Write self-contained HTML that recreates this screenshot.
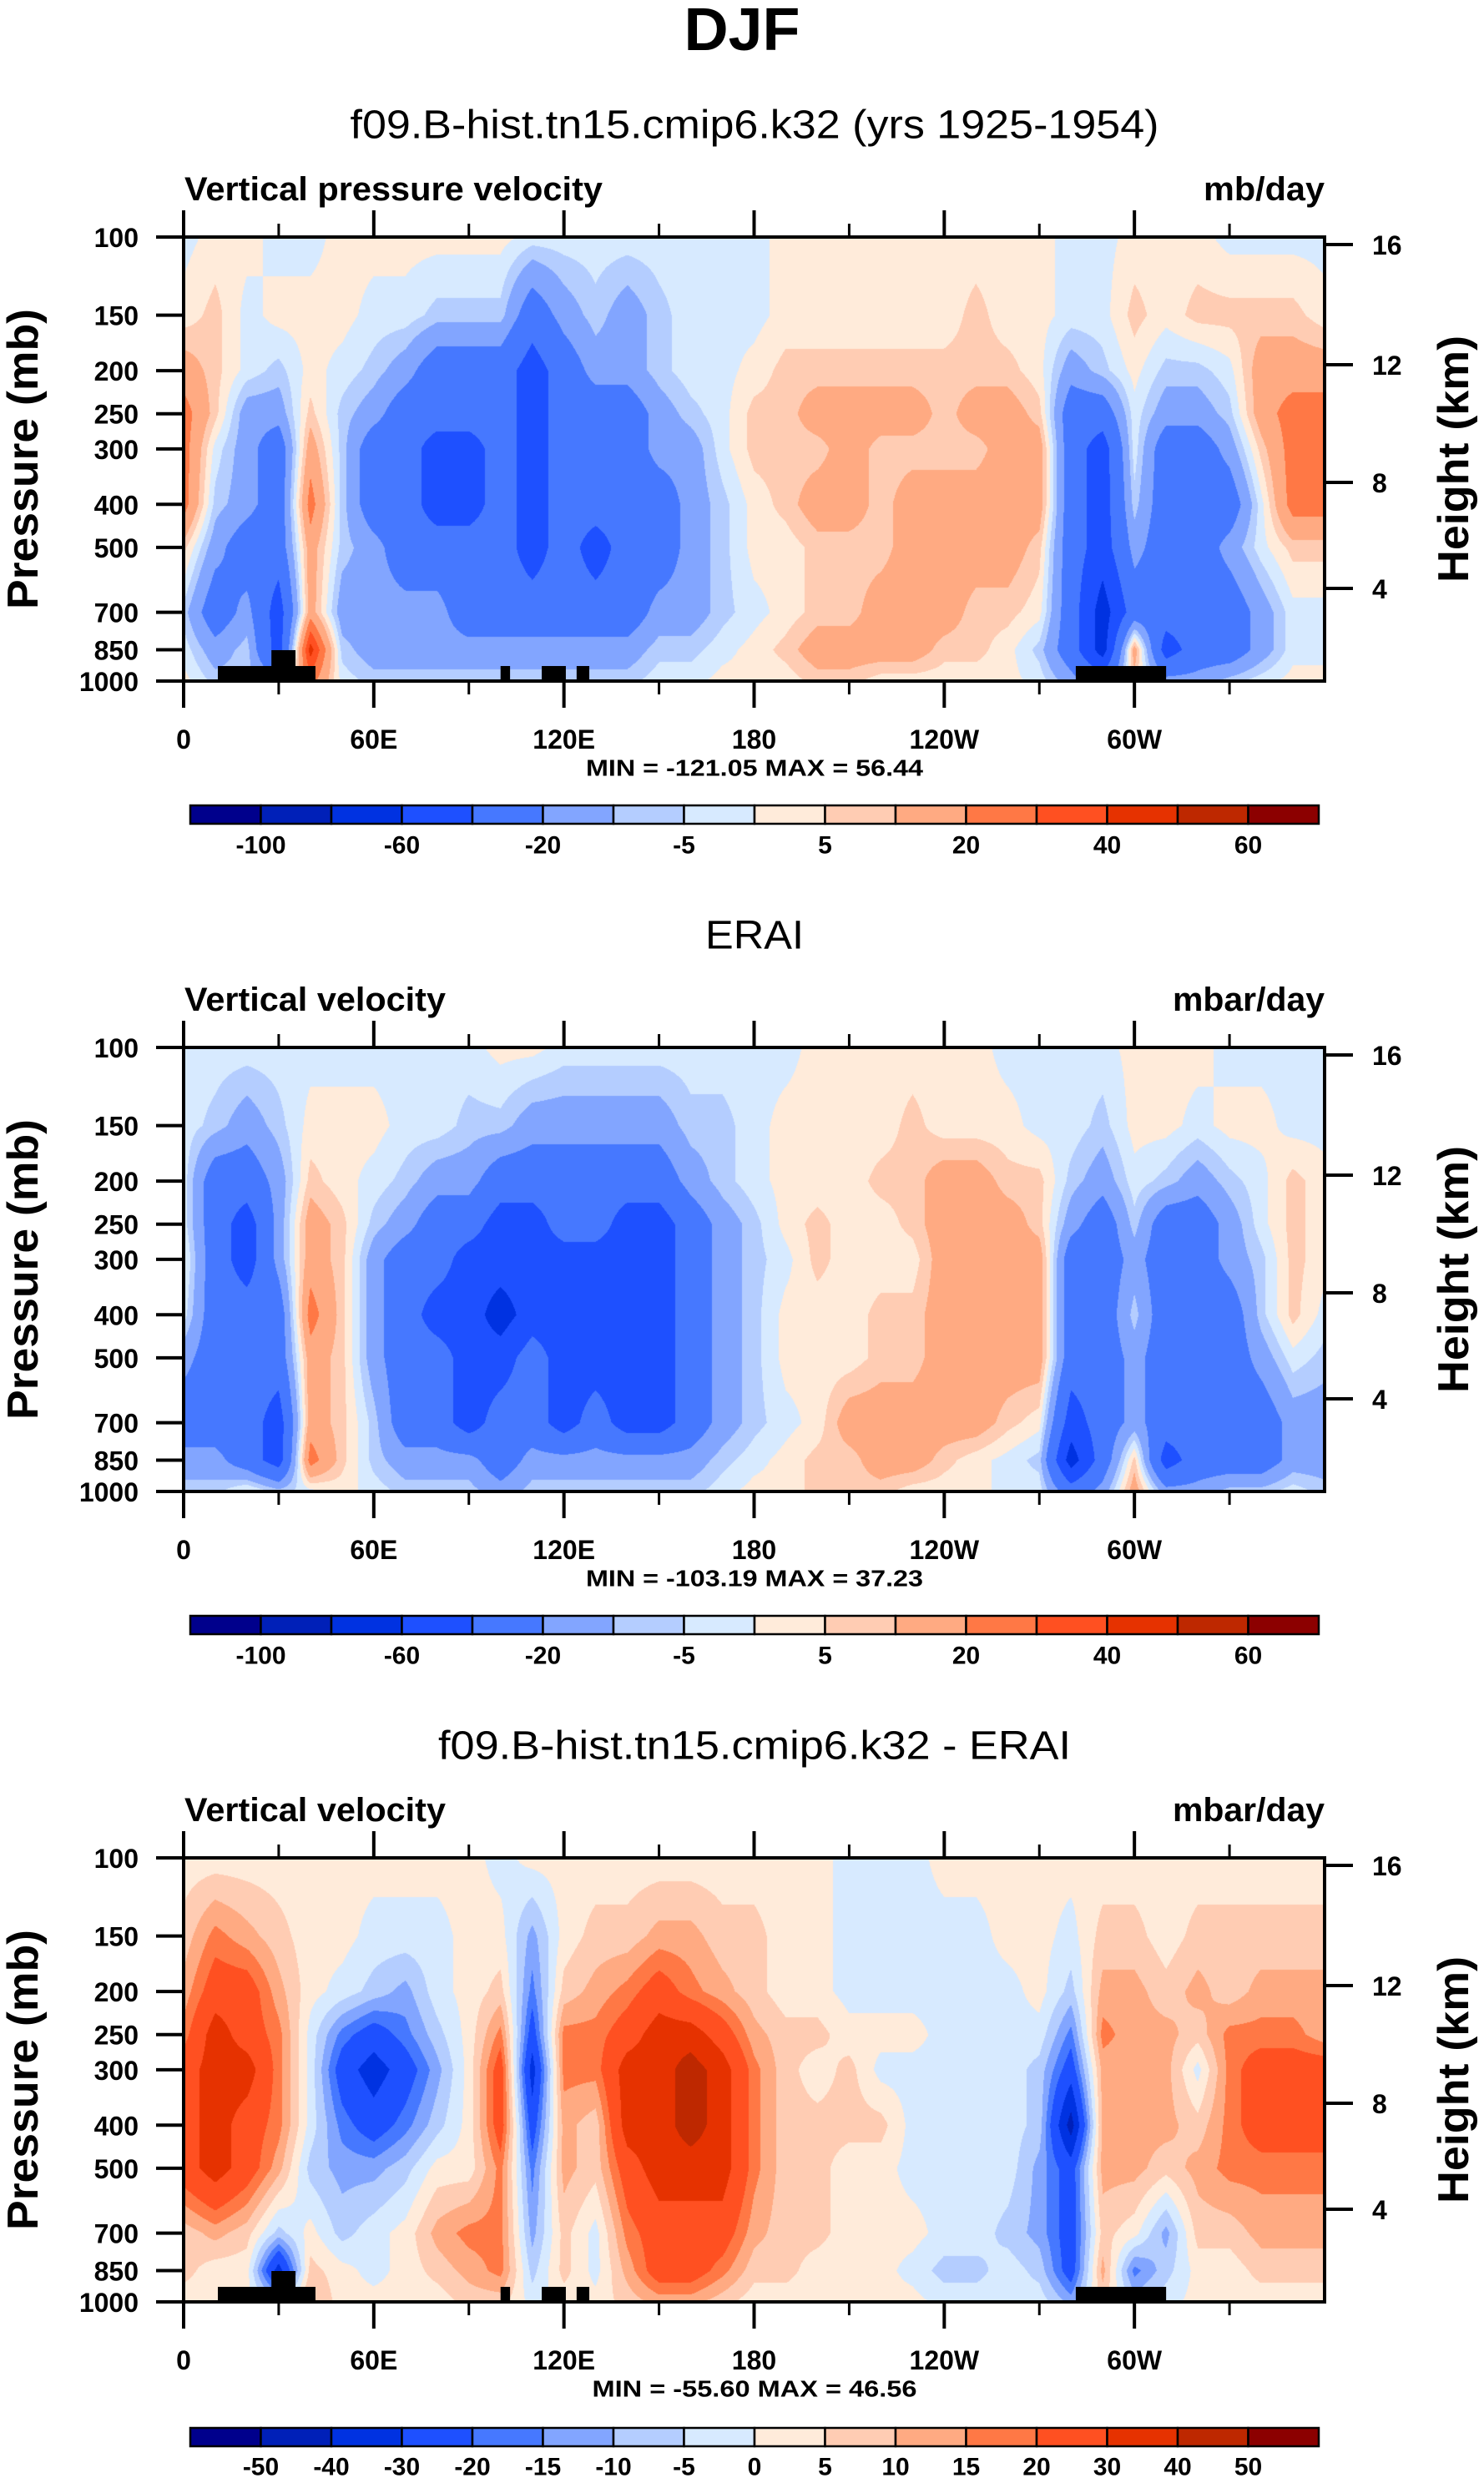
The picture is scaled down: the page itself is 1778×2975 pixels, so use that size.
<!DOCTYPE html>
<html><head><meta charset="utf-8"><style>
html,body{margin:0;padding:0;background:#fff;}
#root{position:relative;width:1778px;height:2975px;overflow:hidden;background:#fff;}
canvas{position:absolute;}
svg{position:absolute;left:0;top:0;}
text{font-family:"Liberation Sans",sans-serif;fill:#000;}
</style></head><body>
<div id="root">
<canvas id="c0" width="1367" height="532" style="left:220px;top:284px"></canvas>
<canvas id="c1" width="1367" height="532" style="left:220px;top:1255px"></canvas>
<canvas id="c2" width="1367" height="532" style="left:220px;top:2226px"></canvas>
<svg id="ov" width="1778" height="2975"></svg>
</div>
<script>
// ---- data ----
const lons = [0,10,20,30,40,50,60,70,80,90,100,110,120,130,140,150,160,170,180,190,200,210,220,230,240,250,260,270,280,290,300,310,320,330,340,350,360];
const plevs = [100,150,200,250,300,400,500,700,850,1000];
const levelsA = [-100,-80,-60,-40,-20,-10,-5,0,5,10,20,30,40,50,60];
const levelsB = [-50,-40,-30,-20,-15,-10,-5,0,5,10,15,20,30,40,50];
const labelsA = ["-100","-60","-20","-5","5","20","40","60"];
const labelsAIdx = [0,2,4,6,8,10,12,14];
const labelsB = ["-50","-40","-30","-20","-15","-10","-5","0","5","10","15","20","30","40","50"];
const colors = ["#00008c","#0020b8","#0032e1","#1e50ff","#4678ff","#82a5ff","#b4cdff","#d7eaff","#ffebda","#ffccb3","#ffaa82","#ff7845","#ff5021","#e63200","#be2800","#8c0000"];
const xTickLabels = ["0","60E","120E","180","120W","60W"];
const xTickLons = [0,60,120,180,240,300];
const xMinorLons = [30,90,150,210,270,330];
const pTickLabels = ["100","150","200","250","300","400","500","700","850","1000"];
const pTicks = [100,150,200,250,300,400,500,700,850,1000];
const hTickLabels = ["16","12","8","4"];
const hTickY = [293,437,578,705];
const topo = [[10.8,41.6,925],[27.7,35.3,852],[100,103,925],[113,120.6,925],[124,128,925],[281.5,310,925]];

const model = [
[-2,2,2,-2,-2,2,2,2,2,2,2,-2,-2,-2,-2,-2,-2,-2,-2,2,2,2,2,2,2,2,2,2,-2,-2,2,2,2,-2,-2,-2,-2],
[2,7,-2,2,2,2,-2,-2,-7,-7,-7,-30,-15,-7,-15,-7,-2,-2,-2,2,2,2,2,2,2,7,2,2,-2,-2,7,2,7,7,7,7,2],
[15,7,-2,-7,2,-2,-7,-15,-30,-30,-30,-50,-30,-15,-15,-7,-2,-2,2,7,7,7,7,7,7,7,7,2,-15,-7,2,-7,-7,-2,15,15,15],
[25,7,-15,-15,7,-7,-15,-30,-30,-30,-30,-50,-30,-30,-30,-15,-7,-2,7,7,15,15,15,15,7,15,15,7,-30,-30,-2,-15,-15,-7,15,25,25],
[25,-2,-15,-30,15,-7,-30,-30,-50,-50,-30,-50,-30,-30,-30,-15,-15,-2,7,7,7,15,7,7,7,7,15,15,-30,-50,-2,-30,-30,-15,7,25,25],
[25,-7,-15,-30,25,-7,-30,-30,-50,-50,-30,-50,-30,-30,-30,-30,-15,-7,2,7,15,15,7,15,15,15,15,15,-30,-50,-7,-30,-30,-30,-2,25,25],
[7,-15,-30,-30,15,-7,-15,-30,-30,-30,-30,-50,-30,-50,-30,-30,-15,-7,2,2,7,7,7,15,15,15,15,7,-30,-50,-15,-30,-30,-15,-2,7,7],
[-7,-30,-15,-50,15,-15,-15,-15,-15,-30,-30,-30,-30,-30,-30,-15,-15,-7,-2,2,7,7,15,15,15,7,7,2,-30,-70,-30,-30,-30,-30,-15,-2,-2],
[-2,-15,-7,-50,45,-7,-15,-15,-15,-15,-15,-15,-15,-15,-15,-7,-7,-2,2,7,15,15,15,15,7,7,2,-7,-30,-70,15,-50,-30,-30,-15,-2,-2],
[2,-7,-7,-15,25,-2,-7,-7,-7,-7,-7,-7,-7,-7,-7,-2,-2,2,2,2,7,7,2,2,2,2,2,-2,-15,-30,7,-15,-15,-7,-2,2,2]
];
const erai = [
[-2,-2,-2,-2,-2,-2,-2,-2,-2,-2,2,2,-2,-2,-2,-2,-2,-2,-2,-2,2,2,2,2,2,2,-2,-2,-2,-2,2,2,2,-2,-2,-2,-2],
[-2,-7,-15,-7,2,2,2,-2,-2,-7,-7,-15,-15,-15,-15,-15,-7,-7,-2,2,2,2,2,7,2,2,2,-2,-2,-7,2,2,-2,2,2,-2,-2],
[-2,-30,-30,-15,7,2,-2,-7,-15,-15,-30,-30,-30,-30,-30,-30,-15,-7,-2,2,2,2,7,7,15,15,7,7,-7,-15,-2,-7,-15,-7,-2,7,2],
[-2,-30,-50,-15,15,7,-7,-15,-30,-30,-50,-50,-30,-30,-50,-50,-30,-15,-7,2,7,2,2,7,15,15,15,7,-15,-30,-7,-30,-30,-15,-2,7,2],
[2,-30,-50,-15,15,7,-15,-30,-30,-50,-50,-50,-50,-50,-50,-50,-30,-15,-7,-2,7,2,2,2,15,15,15,15,-30,-30,-15,-30,-30,-15,-7,7,2],
[-2,-30,-30,-30,25,7,-15,-30,-50,-50,-70,-50,-50,-50,-50,-50,-30,-15,-7,2,2,2,7,7,15,15,15,15,-30,-30,-7,-30,-30,-30,-7,7,-2],
[-15,-30,-30,-30,15,7,-15,-30,-30,-50,-50,-30,-50,-50,-50,-50,-30,-15,-7,2,2,2,7,7,15,15,15,15,-30,-30,-15,-30,-30,-30,-15,-2,-7],
[-30,-30,-30,-50,15,7,-7,-30,-30,-50,-30,-30,-50,-30,-50,-50,-30,-15,-7,-2,2,15,15,15,15,15,7,2,-50,-30,-15,-30,-30,-30,-30,-15,-15],
[-15,-15,-30,-50,25,7,-7,-15,-15,-15,-30,-15,-15,-15,-15,-15,-15,-7,-2,2,7,7,15,15,7,2,-2,-7,-70,-30,7,-50,-30,-30,-30,-15,-15],
[-7,-7,2,-7,-2,2,-2,-7,-7,-7,-15,-7,-7,-7,-7,-7,-7,-2,2,2,7,7,7,2,2,2,-2,-2,-30,-15,15,-15,-15,-7,-7,-2,-7]
];
const diff = [
[2,2,2,2,2,2,2,2,2,2,-2,2,2,2,2,2,2,2,2,2,2,-2,-2,-2,2,2,2,2,2,2,2,2,2,2,2,2,2],
[7,17,12,7,2,2,-2,-2,-2,2,2,-12,2,7,7,12,12,7,7,2,2,-2,-2,-2,-2,-2,2,2,-2,7,7,2,7,7,7,7,7],
[12,25,25,12,2,-2,-7,-12,-2,2,7,-17,7,12,17,25,17,12,7,2,2,-2,-2,-2,-2,-2,-2,2,-7,12,12,7,12,7,12,12,12],
[17,35,25,17,-2,-17,-25,-17,-7,2,17,-25,17,17,25,35,35,25,12,7,7,2,2,2,-2,-2,-2,-2,-17,17,12,12,7,17,17,17,12],
[25,35,35,17,-2,-25,-35,-25,-12,2,25,-35,17,17,35,35,45,35,17,7,2,7,-2,-2,-2,-2,-2,-7,-25,12,12,12,-2,17,25,25,25],
[25,35,25,17,-2,-17,-25,-17,-7,2,25,-25,12,7,35,35,45,35,17,7,7,7,7,-2,-2,-2,-2,-7,-45,12,12,12,7,17,25,25,25],
[25,35,25,12,-7,-12,-12,-7,2,2,17,-17,12,7,25,35,35,35,17,7,7,2,2,-2,-2,-2,-2,-12,-25,12,12,7,12,17,17,17,17],
[7,12,7,-7,2,-7,-2,2,12,17,17,-12,7,-2,17,25,25,25,12,7,7,2,2,2,-2,-2,-7,-12,-25,7,2,-12,7,7,12,12,12],
[7,2,2,-35,7,2,-2,2,7,12,17,-7,7,-2,12,25,25,17,7,7,2,2,2,-2,-7,-7,-2,-7,-25,12,-17,-7,2,2,7,7,7],
[2,2,2,-7,12,2,2,2,2,7,7,-2,2,2,7,12,12,7,2,2,2,2,2,2,-2,-2,-2,-2,-12,7,-7,-2,2,2,2,2,2]
];

// ---- geometry ----
const PX0 = 220, PW = 1367, PY0 = 284, PH = 532;
const offs = [0, 971, 1942];
function xOf(lon){ return PX0 + lon/360*PW; }
function yOf(p, o){ return PY0 + o + Math.log10(p/100)*PH; }
function hexRGB(h){ return [parseInt(h.substr(1,2),16),parseInt(h.substr(3,2),16),parseInt(h.substr(5,2),16)]; }
const rgb = colors.map(hexRGB);
function colorIdx(v, lev){ let i=0; while(i<lev.length && v>=lev[i]) i++; return i; }

function drawField(id, grid, lev){
  const cv = document.getElementById(id), ctx = cv.getContext('2d');
  const img = ctx.createImageData(PW, PH), d = img.data;
  const lp = plevs.map(p=>Math.log10(p/100));
  for(let y=0;y<PH;y++){
    const f = (y+0.5)/PH;
    let k=0; while(k<lp.length-2 && f>lp[k+1]) k++;
    const ty = Math.min(1,Math.max(0,(f-lp[k])/(lp[k+1]-lp[k])));
    const r0 = grid[k], r1 = grid[k+1];
    for(let x=0;x<PW;x++){
      const lon = (x+0.5)/PW*360;
      let j = Math.min(lons.length-2, Math.floor(lon/10));
      const tx = (lon-lons[j])/(lons[j+1]-lons[j]);
      const a = r0[j]*(1-tx)+r0[j+1]*tx, b = r1[j]*(1-tx)+r1[j+1]*tx;
      const v = a*(1-ty)+b*ty;
      const c = rgb[colorIdx(v, lev)];
      const q=(y*PW+x)*4; d[q]=c[0]; d[q+1]=c[1]; d[q+2]=c[2]; d[q+3]=255;
    }
  }
  ctx.putImageData(img,0,0);
}
drawField('c0', model, levelsA);
drawField('c1', erai, levelsA);
drawField('c2', diff, levelsB);

// ---- overlay ----
const NS = "http://www.w3.org/2000/svg";
const ov = document.getElementById('ov');
function el(tag, attrs, parent){
  const e = document.createElementNS(NS, tag);
  for(const k in attrs) e.setAttribute(k, attrs[k]);
  (parent||ov).appendChild(e); return e;
}
function txt(s, x, y, size, opts, parent){
  opts = opts||{};
  const t = el('text', {x:x, y:y, 'font-size':size, 'text-anchor':opts.anchor||'middle', 'dominant-baseline':'central', 'font-weight':opts.bold?'bold':'normal'}, parent);
  if(opts.len){ t.setAttribute('textLength', opts.len); t.setAttribute('lengthAdjust','spacingAndGlyphs'); }
  if(opts.rot) t.setAttribute('transform', 'rotate('+opts.rot+' '+x+' '+y+')');
  t.textContent = s; return t;
}

const t0 = txt("DJF", 889, 36, 72, {bold:true, len:139});



const panelTitles = ["f09.B-hist.tn15.cmip6.k32 (yrs 1925-1954)", "ERAI", "f09.B-hist.tn15.cmip6.k32 - ERAI"];
const panelTitleLen = [969, 118, 758];
const leftStr = ["Vertical pressure velocity", "Vertical velocity", "Vertical velocity"];
const leftLen = [501, 313, 313];
const rightStr = ["mb/day", "mbar/day", "mbar/day"];
const rightLen = [145, 182, 182];
const minmax = ["MIN = -121.05  MAX =  56.44", "MIN = -103.19  MAX =  37.23", "MIN = -55.60  MAX =  46.56"];
const minmaxLen = [404, 404, 389];

for(let i=0;i<3;i++){
  const o = offs[i];
  const g = el('g', {});
  
  
  let t = txt(panelTitles[i], 904, 150+o, 48, {len:panelTitleLen[i]}, g);
  
  
  t = txt(leftStr[i], 221, 227+o, 40, {bold:true, anchor:'start', len:leftLen[i]}, g);
  
  
  t = txt(rightStr[i], 1587, 227+o, 40, {bold:true, anchor:'end', len:rightLen[i]}, g);
  
  
  if(i!==1){
    topo.forEach(b=>{
      const r = el('rect', {x:xOf(b[0]), y:yOf(b[2],o), width:xOf(b[1])-xOf(b[0]), height:yOf(1000,o)-yOf(b[2],o), fill:'#000'}, g);
      
      
    });
  }
  const fr = el('rect', {x:PX0, y:PY0+o, width:PW, height:PH, fill:'none', stroke:'#000', 'stroke-width':4}, g);
  
  
  xTickLons.forEach((lon,k)=>{
    const x = xOf(lon);
    let ln = el('line', {x1:x, y1:PY0+o, x2:x, y2:PY0+o-32, stroke:'#000', 'stroke-width':4}, g);
    
    
    ln = el('line', {x1:x, y1:PY0+PH+o, x2:x, y2:PY0+PH+o+32, stroke:'#000', 'stroke-width':4}, g);
    
    
    const lt = txt(xTickLabels[k], x, 886+o, 32, {bold:true}, g);
    
    
  });
  xMinorLons.forEach(lon=>{
    const x = xOf(lon);
    let ln = el('line', {x1:x, y1:PY0+o, x2:x, y2:PY0+o-16, stroke:'#000', 'stroke-width':3}, g);
    
    
    ln = el('line', {x1:x, y1:PY0+PH+o, x2:x, y2:PY0+PH+o+16, stroke:'#000', 'stroke-width':3}, g);
    
    
  });
  pTicks.forEach((p,k)=>{
    const y = yOf(p,o);
    const ln = el('line', {x1:187, y1:y, x2:PX0, y2:y, stroke:'#000', 'stroke-width':4}, g);
    
    
    const lt = txt(pTickLabels[k], 166, y+1, 32, {bold:true, anchor:'end'}, g);
    
    
  });
  hTickY.forEach((hy,k)=>{
    const ln = el('line', {x1:PX0+PW, y1:hy+o, x2:1621, y2:hy+o, stroke:'#000', 'stroke-width':4}, g);
    
    
    const lt = txt(hTickLabels[k], 1644, hy+o+1, 32, {bold:true, anchor:'start'}, g);
    
    
  });
  t = txt("Pressure (mb)", 28, 550+o, 52, {bold:true, rot:-90, len:360}, g);
  
  
  t = txt("Height (km)", 1742, 550+o, 52, {bold:true, rot:-90, len:296}, g);
  
  
  t = txt(minmax[i], 904, 920+o, 28, {bold:true, len:minmaxLen[i]}, g);
  
  
  const cb = el('g', {}, g);
  
  
  const cx0 = 228, cx1 = 1580, cw = (cx1-cx0)/colors.length, cy = (i===2?967:965)+o, ch = 22;
  colors.forEach((c,k)=>{
    const r = el('rect', {x:cx0+k*cw, y:cy, width:cw, height:ch, fill:c, stroke:'#000', 'stroke-width':2.5}, cb);
    
    
  });
  if(i<2){
    labelsA.forEach((s,k)=>{
      const lt = txt(s, cx0+(labelsAIdx[k]+1)*cw, 1013+o, 30, {bold:true}, cb);
      
      
    });
  } else {
    labelsB.forEach((s,k)=>{
      const lt = txt(s, cx0+(k+1)*cw, 1014+o, 30, {bold:true}, cb);
      
      
    });
  }
}
</script>
</body></html>
